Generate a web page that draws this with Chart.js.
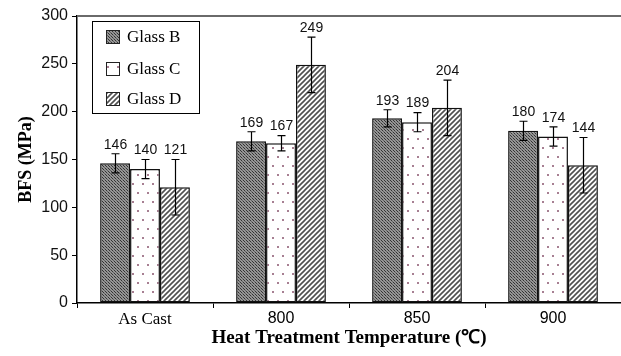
<!DOCTYPE html>
<html>
<head>
<meta charset="utf-8">
<script src="https://cdn.jsdelivr.net/npm/chart.js@4"></script>
<style>
  html, body { margin: 0; padding: 0; background: #fff; }
  #wrap { width: 621px; height: 356px; }
</style>
</head>
<body>
<div id="wrap"><canvas id="bfsChart" width="621" height="356"></canvas></div>
<script>
const categories = ['As Cast', '800', '850', '900'];
const seriesNames = ['Glass B', 'Glass C', 'Glass D'];
const glassB = [146, 169, 193, 180];
const glassC = [140, 167, 189, 174];
const glassD = [121, 249, 204, 144];
const errB = [10, 10, 9, 10];
const errC = [10, 8, 10, 10];
const errD = [29, 29, 29, 29];
const yTicks = [0, 50, 100, 150, 200, 250, 300];

const SERIF = '"Liberation Serif", "Times New Roman", serif';
const SANS = '"Liberation Sans", Arial, sans-serif';

// fill patterns, roughly like the printed hatches
function makePattern(w, h, paint) {
    const c = document.createElement('canvas');
    c.width = w; c.height = h;
    const g = c.getContext('2d');
    paint(g);
    return g.createPattern(c, 'repeat');
}
const ctx = document.getElementById('bfsChart').getContext('2d');

const patB = makePattern(3, 3, g => {
    g.fillStyle = '#959595'; g.fillRect(0, 0, 3, 3);
    g.fillStyle = '#333333'; g.fillRect(0, 0, 1, 1); g.fillRect(1, 1, 1, 1);
    g.fillStyle = '#606060'; g.fillRect(2, 2, 1, 1);
});
const patC = makePattern(10, 18, g => {
    g.fillStyle = '#ffffff'; g.fillRect(0, 0, 10, 18);
    g.fillStyle = '#a77f92';
    g.fillRect(2, 3, 2, 2); g.fillRect(7, 12, 2, 2);
});
const patD = makePattern(5, 5, g => {
    g.fillStyle = '#ffffff'; g.fillRect(0, 0, 5, 5);
    g.strokeStyle = '#505050'; g.lineWidth = 1.6;
    g.beginPath();
    g.moveTo(-1, 6); g.lineTo(6, -1);
    g.moveTo(-1, 1); g.lineTo(1, -1);
    g.moveTo(4, 6); g.lineTo(6, 4);
    g.stroke();
});

const errors = [errB, errC, errD];

const errorBars = {
    id: 'errorBars',
    afterDatasetsDraw(chart) {
        const c = chart.ctx;
        const y = chart.scales.y;
        c.save();
        chart.data.datasets.forEach((ds, i) => {
            const meta = chart.getDatasetMeta(i);
            meta.data.forEach((bar, j) => {
                const v = ds.data[j];
                const e = errors[i][j];
                const top = y.getPixelForValue(v + e);
                const bot = y.getPixelForValue(v - e);
                const x = Math.round(bar.x) + 0.5;
                c.strokeStyle = '#000';
                c.lineWidth = 1.2;
                c.beginPath();
                c.moveTo(x, top); c.lineTo(x, bot);
                c.moveTo(x - 4, top); c.lineTo(x + 4, top);
                c.moveTo(x - 4, bot); c.lineTo(x + 4, bot);
                c.stroke();
                c.fillStyle = '#111';
                c.font = '14px ' + SANS;
                c.textAlign = 'center';
                c.textBaseline = 'bottom';
                c.fillText(String(v), x, top - 2);
            });
        });
        c.restore();
    }
};

const frameAndLegend = {
    id: 'frameAndLegend',
    afterDraw(chart) {
        const c = chart.ctx;
        const a = chart.chartArea;
        c.save();
        // top frame line
        c.strokeStyle = '#6a6a6a';
        c.lineWidth = 2;
        c.beginPath();
        c.moveTo(a.left, a.top); c.lineTo(a.right, a.top);
        c.stroke();
        // legend box
        const lx = 92, ly = 21, lw = 107, lh = 92;
        c.fillStyle = '#fff';
        c.fillRect(lx, ly, lw, lh);
        c.strokeStyle = '#000';
        c.lineWidth = 1;
        c.strokeRect(lx + 0.5, ly + 0.5, lw, lh);
        const rows = [37, 69, 99];
        chart.data.datasets.forEach((ds, i) => {
            const cy = rows[i];
            c.fillStyle = ds.backgroundColor;
            c.fillRect(106, cy - 7, 14, 14);
            c.strokeStyle = '#222';
            c.lineWidth = 1;
            c.strokeRect(106.5, cy - 6.5, 13, 13);
            c.fillStyle = '#000';
            c.font = '17px ' + SERIF;
            c.textAlign = 'left';
            c.textBaseline = 'middle';
            c.fillText(ds.label, 127, cy + 1);
        });
        c.restore();
    }
};

new Chart(ctx, {
    type: 'bar',
    data: {
        labels: categories,
        datasets: [
            { label: seriesNames[0], data: glassB, backgroundColor: patB },
            { label: seriesNames[1], data: glassC, backgroundColor: patC },
            { label: seriesNames[2], data: glassD, backgroundColor: patD }
        ].map(d => Object.assign(d, {
            borderColor: '#111',
            borderWidth: 1.5,
            borderSkipped: false,
            barPercentage: 1.0,
            categoryPercentage: 0.66
        }))
    },
    options: {
        responsive: false,
        animation: false,
        devicePixelRatio: 1,
        layout: { padding: { top: 16, right: 0, left: 0, bottom: 0 } },
        plugins: {
            legend: { display: false },
            tooltip: { enabled: false }
        },
        scales: {
            x: {
                afterFit: s => { s.height = 53; },
                grid: { drawOnChartArea: false, drawTicks: true, tickLength: 5, color: '#000', offset: true },
                border: { color: '#000', width: 1.5 },
                ticks: {
                    color: '#000',
                    padding: 1,
                    font: c => c.index === 0 ? { family: SERIF, size: 17 } : { family: SANS, size: 16 }
                },
                title: {
                    display: true,
                    text: 'Heat Treatment Temperature (\u2103)',
                    color: '#000',
                    font: { family: SERIF, size: 19, weight: 'bold' },
                    padding: { top: 0, bottom: 7 }
                }
            },
            y: {
                min: 0,
                max: 300,
                afterFit: s => { s.width = 77; },
                afterBuildTicks: s => { s.ticks = yTicks.map(v => ({ value: v })); },
                grid: { drawOnChartArea: false, drawTicks: true, tickLength: 5, color: '#000' },
                border: { color: '#000', width: 1.5 },
                ticks: {
                    color: '#111',
                    padding: 4,
                    font: { family: SANS, size: 16 }
                },
                title: {
                    display: true,
                    text: 'BFS (MPa)',
                    color: '#000',
                    font: { family: SERIF, size: 18, weight: 'bold' },
                    padding: { top: 16, bottom: 0 }
                }
            }
        }
    },
    plugins: [errorBars, frameAndLegend]
});
</script>
</body>
</html>
